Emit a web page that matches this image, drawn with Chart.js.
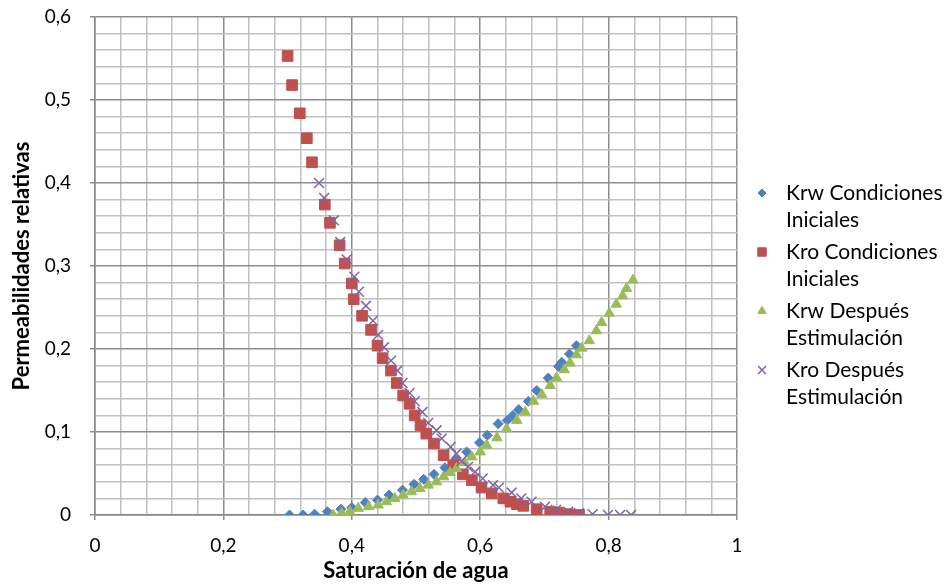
<!DOCTYPE html>
<html>
<head>
<meta charset="utf-8">
<title>Permeabilidades relativas</title>
<script src="https://cdn.jsdelivr.net/npm/chart.js@4/dist/chart.umd.min.js"></script>
<style>
  html, body { margin: 0; padding: 0; background: #ffffff; }
  #chart { display: block; }
</style>
</head>
<body>
<canvas id="chart" width="950" height="584"></canvas>
<script>
// curvas de permeabilidad relativa agua / petróleo
const seriesNames = [
  ["Krw Condiciones", "Iniciales"],
  ["Kro Condiciones", "Iniciales"],
  ["Krw Después", "Estimulación"],
  ["Kro Después", "Estimulación"]
];

const krwIniSw = [0.303, 0.324, 0.342, 0.362, 0.383, 0.400, 0.421, 0.440, 0.458, 0.479, 0.497, 0.512, 0.528, 0.545, 0.562, 0.579, 0.599, 0.611, 0.628, 0.642, 0.651, 0.660, 0.675, 0.688, 0.706, 0.722, 0.727, 0.739, 0.750];
const krwIni   = [0.000, 0.000, 0.001, 0.004, 0.007, 0.009, 0.015, 0.018, 0.024, 0.030, 0.037, 0.043, 0.049, 0.057, 0.067, 0.076, 0.087, 0.096, 0.110, 0.114, 0.120, 0.127, 0.137, 0.150, 0.165, 0.179, 0.184, 0.194, 0.204];

const kroIniSw = [0.300, 0.307, 0.319, 0.330, 0.338, 0.358, 0.366, 0.381, 0.389, 0.400, 0.403, 0.416, 0.430, 0.440, 0.448, 0.461, 0.470, 0.480, 0.490, 0.498, 0.507, 0.516, 0.528, 0.543, 0.558, 0.573, 0.587, 0.602, 0.618, 0.636, 0.647, 0.657, 0.667, 0.688, 0.709, 0.720, 0.737, 0.754];
const kroIni   = [0.553, 0.518, 0.484, 0.454, 0.425, 0.374, 0.352, 0.325, 0.303, 0.279, 0.260, 0.240, 0.223, 0.204, 0.189, 0.174, 0.159, 0.144, 0.134, 0.120, 0.108, 0.098, 0.086, 0.072, 0.060, 0.049, 0.042, 0.033, 0.026, 0.020, 0.016, 0.013, 0.011, 0.007, 0.004, 0.003, 0.001, 0.000];

const krwEstSw = [0.371, 0.384, 0.397, 0.410, 0.426, 0.441, 0.454, 0.467, 0.480, 0.493, 0.506, 0.519, 0.532, 0.543, 0.553, 0.563, 0.576, 0.587, 0.600, 0.610, 0.626, 0.641, 0.657, 0.670, 0.683, 0.696, 0.709, 0.719, 0.731, 0.740, 0.750, 0.758, 0.770, 0.781, 0.789, 0.801, 0.812, 0.822, 0.828, 0.838];
const krwEst   = [0.000, 0.002, 0.004, 0.008, 0.010, 0.012, 0.016, 0.020, 0.024, 0.028, 0.032, 0.036, 0.040, 0.046, 0.051, 0.056, 0.063, 0.070, 0.076, 0.084, 0.093, 0.104, 0.114, 0.124, 0.137, 0.145, 0.156, 0.165, 0.175, 0.183, 0.193, 0.201, 0.210, 0.222, 0.232, 0.243, 0.254, 0.264, 0.273, 0.283];

const kroEstSw = [0.349, 0.357, 0.372, 0.382, 0.392, 0.404, 0.411, 0.422, 0.433, 0.441, 0.450, 0.461, 0.471, 0.479, 0.490, 0.498, 0.510, 0.519, 0.532, 0.540, 0.554, 0.563, 0.571, 0.581, 0.592, 0.604, 0.620, 0.629, 0.649, 0.664, 0.680, 0.701, 0.718, 0.737, 0.754, 0.775, 0.799, 0.818, 0.835];
const kroEst   = [0.400, 0.382, 0.355, 0.329, 0.308, 0.287, 0.269, 0.252, 0.234, 0.217, 0.202, 0.186, 0.174, 0.159, 0.147, 0.137, 0.124, 0.111, 0.102, 0.092, 0.082, 0.074, 0.065, 0.058, 0.052, 0.044, 0.036, 0.033, 0.027, 0.020, 0.016, 0.010, 0.006, 0.004, 0.002, 0.001, 0.000, 0.000, 0.000];

const colors = ['#4f81bd', '#c0504d', '#9bbb59', '#8064a2'];
const markers = ['rectRot', 'rect', 'triangle', 'crossRot'];
const radii = [5, 7.5, 6, 7];

function toPoints(xs, ys) {
  return xs.map((x, i) => ({ x: x, y: ys[i] }));
}

const fontFamily = "Lato, 'Open Sans', sans-serif";
const majorGrid = '#8c8c8c';
const minorGrid = '#c0c0c0';

function isMajor(value, step) {
  const r = value / step;
  return Math.abs(r - Math.round(r)) < 1e-6;
}

function fmt(value) {
  if (Math.abs(value) < 1e-9) return '0';
  if (Math.abs(value - 1) < 1e-9) return '1';
  return value.toFixed(1).replace('.', ',');
}

// leyenda a la derecha con etiquetas en dos renglones
const sideLegend = {
  id: 'sideLegend',
  afterDraw(chart) {
    const ctx = chart.ctx;
    const mx = 762, tx = 786;
    const firstY = 193, lineGap = 27, entryGap = 59;
    ctx.save();
    ctx.font = '21px ' + fontFamily;
    ctx.textBaseline = 'middle';
    ctx.textAlign = 'left';
    chart.data.datasets.forEach((ds, i) => {
      const y = firstY + i * entryGap;
      ctx.fillStyle = ds.backgroundColor;
      ctx.strokeStyle = ds.borderColor;
      ctx.lineWidth = ds.pointBorderWidth;
      Chart.helpers.drawPoint(ctx, {
        pointStyle: ds.pointStyle,
        radius: ds.pointRadius * 0.8,
        borderWidth: ds.pointBorderWidth
      }, mx, y);
      ctx.fillStyle = '#000000';
      seriesNames[i].forEach((line, j) => {
        ctx.fillText(line, tx, y + j * lineGap);
      });
    });
    ctx.restore();
  }
};

const datasets = [
  toPoints(krwIniSw, krwIni),
  toPoints(kroIniSw, kroIni),
  toPoints(krwEstSw, krwEst),
  toPoints(kroEstSw, kroEst)
].map((data, i) => ({
  label: seriesNames[i].join(' '),
  data: data,
  showLine: false,
  pointStyle: markers[i],
  pointRadius: radii[i],
  pointHoverRadius: radii[i],
  pointBorderWidth: i === 3 ? 1.5 : 1,
  backgroundColor: colors[i],
  borderColor: colors[i],
  order: 4 - i
}));

new Chart(document.getElementById('chart'), {
  type: 'scatter',
  data: { datasets: datasets },
  options: {
    responsive: false,
    animation: false,
    devicePixelRatio: 1,
    layout: { padding: { top: 17, right: 213, left: 0, bottom: 0 } },
    plugins: {
      legend: { display: false },
      tooltip: { enabled: false }
    },
    scales: {
      x: {
        type: 'linear',
        min: 0,
        max: 1,
        afterFit(scale) { scale.height = 69; },
        ticks: {
          stepSize: 0.04,
          autoSkip: false,
          maxRotation: 0,
          padding: 14,
          color: '#000000',
          font: { family: fontFamily, size: 19 },
          callback: v => isMajor(v, 0.2) ? fmt(v) : ''
        },
        grid: {
          color: c => isMajor(c.tick.value, 0.2) ? majorGrid : minorGrid,
          tickColor: c => isMajor(c.tick.value, 0.2) ? majorGrid : 'rgba(0,0,0,0)',
          tickLength: 5,
          lineWidth: 1.5
        },
        border: { color: '#868686', width: 1.5 },
        title: {
          display: true,
          text: 'Saturación de agua',
          color: '#000000',
          font: { family: fontFamily, size: 22, weight: 'bold' },
          padding: { top: 0, bottom: 0 }
        }
      },
      y: {
        type: 'linear',
        min: 0,
        max: 0.6,
        afterFit(scale) {
          scale.width = 95;
          // el área del gráfico la fija el padding del layout
          scale.paddingTop = 0;
          scale.paddingBottom = 0;
        },
        ticks: {
          stepSize: 0.02,
          autoSkip: false,
          padding: 19,
          color: '#000000',
          font: { family: fontFamily, size: 19 },
          callback: v => isMajor(v, 0.1) ? fmt(v) : ''
        },
        grid: {
          color: c => isMajor(c.tick.value, 0.1) ? majorGrid : minorGrid,
          tickColor: c => isMajor(c.tick.value, 0.1) ? majorGrid : 'rgba(0,0,0,0)',
          tickLength: 5,
          lineWidth: 1.5
        },
        border: { color: '#868686', width: 1.5 },
        title: {
          display: true,
          text: 'Permeabilidades relativas',
          color: '#000000',
          font: { family: fontFamily, size: 22, weight: 'bold' },
          padding: { top: 9, bottom: 0 }
        }
      }
    }
  },
  plugins: [sideLegend]
});
</script>
</body>
</html>
